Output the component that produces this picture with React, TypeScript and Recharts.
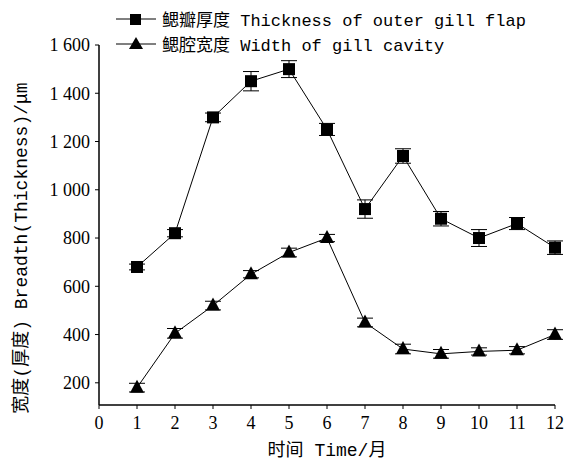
import { LineChart, Line, XAxis, YAxis, ErrorBar, Legend, Label } from 'recharts';

const months = [1, 2, 3, 4, 5, 6, 7, 8, 9, 10, 11, 12];
const flapThickness = [680, 820, 1300, 1450, 1500, 1250, 920, 1140, 880, 800, 860, 760];
const flapError = [12, 15, 18, 40, 35, 25, 38, 30, 30, 35, 25, 28];
const cavityWidth = [180, 405, 520, 650, 740, 800, 450, 340, 320, 330, 335, 400];
const cavityError = [18, 20, 18, 15, 18, 15, 18, 20, 18, 15, 15, 20];
const xTicks = [0, 1, 2, 3, 4, 5, 6, 7, 8, 9, 10, 11, 12];
const yTicks = [200, 400, 600, 800, 1000, 1200, 1400, 1600];

const data = months.map((m, i) => ({
  month: m,
  flap: flapThickness[i],
  flapErr: flapError[i],
  cavity: cavityWidth[i],
  cavityErr: cavityError[i],
}));

const MONO = '"Liberation Mono", "Noto Sans CJK SC", monospace';
const SERIF = '"Liberation Serif", serif';

const fmtY = (v: number) =>
  v >= 1000 ? `${Math.floor(v / 1000)} ${String(v % 1000).padStart(3, '0')}` : String(v);

const Square = (p: any) => {
  if (p.cx == null || p.cy == null) return <g key={p.key} />;
  return <rect key={p.key} x={p.cx - 6} y={p.cy - 6} width={12} height={12} fill="#000" />;
};

const Triangle = (p: any) => {
  if (p.cx == null || p.cy == null) return <g key={p.key} />;
  const { cx, cy } = p;
  return (
    <polygon
      key={p.key}
      points={`${cx},${cy - 8} ${cx - 7},${cy + 5} ${cx + 7},${cy + 5}`}
      fill="#000"
    />
  );
};

const legendItems = [
  { label: '鳃瓣厚度 Thickness of outer gill flap', marker: 'square' },
  { label: '鳃腔宽度 Width of gill cavity', marker: 'triangle' },
];

const renderLegend = () => (
  <div style={{ fontFamily: MONO, fontSize: 17, color: '#000' }}>
    {legendItems.map((it) => (
      <div key={it.label} style={{ display: 'flex', alignItems: 'center', height: 25 }}>
        <svg width={40} height={16} style={{ marginRight: 6 }}>
          <line x1={0} y1={8} x2={40} y2={8} stroke="#000" strokeWidth={1} />
          {it.marker === 'square' ? (
            <rect x={14} y={3} width={11} height={11} fill="#000" />
          ) : (
            <polygon points="20,1 13,13 27,13" fill="#000" />
          )}
        </svg>
        <span style={{ whiteSpace: 'nowrap' }}>{it.label}</span>
      </div>
    ))}
  </div>
);

export default function App() {
  return (
    <div style={{ position: 'absolute', left: 0, top: 0, background: '#fff' }}>
      <LineChart
        width={570}
        height={462}
        data={data}
        margin={{ top: 45, right: 15, bottom: 7, left: 0 }}
      >
        <XAxis
          type="number"
          dataKey="month"
          domain={[0, 12]}
          ticks={xTicks}
          interval={0}
          height={50}
          axisLine={{ stroke: '#000', strokeWidth: 1.5 }}
          tickLine={{ stroke: '#000' }}
          tickSize={4}
          tickMargin={7}
          tick={{ fill: '#000', fontSize: 18, fontFamily: SERIF }}
        >
          <Label
            value="时间 Time/月"
            position="bottom"
            offset={-12}
            style={{ fill: '#000', fontSize: 18, fontFamily: MONO }}
          />
        </XAxis>
        <YAxis
          type="number"
          domain={[108, 1600]}
          ticks={yTicks}
          interval={0}
          width={99}
          tickFormatter={fmtY}
          axisLine={{ stroke: '#000', strokeWidth: 1.5 }}
          tickLine={{ stroke: '#000' }}
          tickSize={4}
          tickMargin={5}
          tick={{ fill: '#000', fontSize: 18, fontFamily: SERIF }}
        >
          <Label
            content={() => (
              <text
                x={22}
                y={248}
                transform="rotate(-90 22 248)"
                textAnchor="middle"
                dominantBaseline="central"
                style={{ fill: '#000', fontSize: 18, fontFamily: MONO }}
              >
                宽度(厚度) Breadth(Thickness)/μm
              </text>
            )}
          />
        </YAxis>
        <Legend
          layout="vertical"
          align="center"
          verticalAlign="middle"
          content={renderLegend}
          wrapperStyle={{ top: 6, left: 116, width: 450 }}
        />
        <Line
          dataKey="flap"
          stroke="#000"
          strokeWidth={1}
          isAnimationActive={false}
          dot={Square}
          activeDot={false}
        >
          <ErrorBar dataKey="flapErr" direction="y" width={8} stroke="#000" strokeWidth={1} isAnimationActive={false} />
        </Line>
        <Line
          dataKey="cavity"
          stroke="#000"
          strokeWidth={1}
          isAnimationActive={false}
          dot={Triangle}
          activeDot={false}
        >
          <ErrorBar dataKey="cavityErr" direction="y" width={8} stroke="#000" strokeWidth={1} isAnimationActive={false} />
        </Line>
      </LineChart>
    </div>
  );
}
